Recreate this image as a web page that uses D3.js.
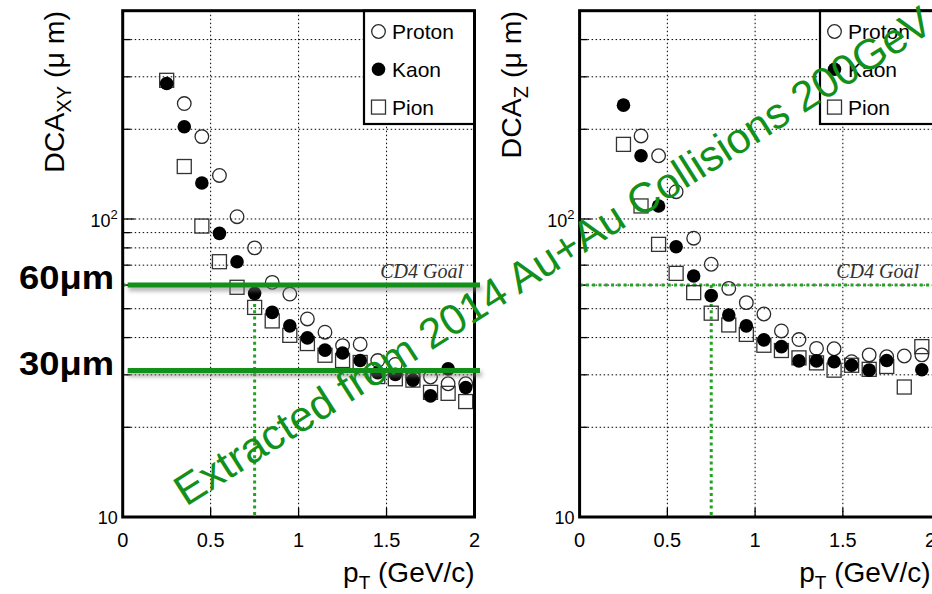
<!DOCTYPE html>
<html><head><meta charset="utf-8">
<script src="https://cdn.jsdelivr.net/npm/d3@7"></script>
<style>body{margin:0;background:#fff;overflow:hidden}</style>
</head><body>
<svg id="c" width="932" height="594"></svg>
<script>
// ---------------- data ----------------
const pT = [0.25,0.35,0.45,0.55,0.65,0.75,0.85,0.95,1.05,1.15,1.25,1.35,1.45,1.55,1.65,1.75,1.85,1.95];
const xyProton = [null,244,189,140,101.8,80,61.3,56,46.2,41.7,37.6,38.0,33.5,32.5,29.5,29.5,28.0,28.0];
const xyKaon   = [285,204,132,89.5,71.9,56.3,48.6,43.8,39.9,36.3,35.5,33.5,30.5,30.1,28.8,25.5,31.4,27.2];
const xyPion   = [292,150,94.7,71.9,59,50.5,45.5,40.7,38.2,34.9,33.5,33.0,29.6,29.1,28.8,26.2,26.0,24.4];
const zProton  = [null,190,163,123.5,86.2,70.5,58.5,52.4,48.0,42.1,39.4,36.8,36.7,33.2,35.0,34.5,34.7,35.0];
const zKaon    = [241,163,110.6,80.7,64.4,55.3,47.6,43.8,39.3,37.3,33.4,33.4,33.2,32.3,31.1,33.5,null,31.2];
const zPion    = [178,110.6,82.2,65.7,56.6,48.3,44.1,41.0,37.7,36.2,34.2,32.9,31.1,32.3,31.3,32.0,27.3,37.3];
const xTicks = [0,0.5,1,1.5,2];
const xTickLabels = ["0","0.5","1","1.5","2"];
const yGrid = [20,30,40,50,60,70,80,90,200,300,400];
const yMajor = [10,100];
const species = ["Proton","Kaon","Pion"];
const cd4Goal = 60;
const cd4Pt = 0.75;
const markLevels = [60,31];
const markLabels = ["60μm","30μm"];
const watermark = "Extracted from 2014 Au+Au Collisions 200GeV";

// ---------------- layout ----------------
const svg = d3.select("#c");
const GREEN = "#12901a", GREEN_DOT = "#22a322";
const FONT = "'Liberation Sans', Arial, Helvetica, sans-serif";
const defs = svg.append("defs");
defs.append("filter").attr("id","blur").attr("filterUnits","userSpaceOnUse")
  .attr("x",0).attr("y",0).attr("width",932).attr("height",594)
  .append("feGaussianBlur").attr("stdDeviation",2.2);

const panels = [
  {x0:122.7, x1:474.5, frameR:474.5, sub:"XY", titleX:64, data:[xyProton,xyKaon,xyPion],
   legX:364, legR:474.5, goalX:463, annotate:true},
  {x0:579.6, x1:930.6, frameR:934, sub:"Z", titleX:521, data:[zProton,zKaon,zPion],
   legX:820, legR:934, goalX:919, annotate:false}
];
const yTop = 10.7, yBot = 517;

function marker(g, kind, cx, cy){
  if(kind===0) g.append("circle").attr("cx",cx).attr("cy",cy).attr("r",6.8).attr("fill","none").attr("stroke","#2a2a2a").attr("stroke-width",1.3);
  else if(kind===1) g.append("circle").attr("cx",cx).attr("cy",cy).attr("r",6.8).attr("fill","#000");
  else g.append("rect").attr("x",cx-7).attr("y",cy-7).attr("width",14).attr("height",14).attr("fill","none").attr("stroke","#333").attr("stroke-width",1.3);
}

panels.forEach(p=>{
  const x = d3.scaleLinear().domain([0,2]).range([p.x0,p.x1]);
  const y = d3.scaleLog().domain([10,500]).range([yBot,yTop]);
  const g = svg.append("g");

  // grid
  g.selectAll(".gx").data(xTicks.slice(1,-1)).join("line")
    .attr("x1",d=>x(d)).attr("x2",d=>x(d)).attr("y1",yTop).attr("y2",yBot)
    .attr("stroke","#000").attr("stroke-width",1).attr("stroke-dasharray","1.5,2.5");
  g.selectAll(".gy").data(yGrid.concat([100])).join("line")
    .attr("x1",p.x0).attr("x2",p.frameR).attr("y1",d=>y(d)).attr("y2",d=>y(d))
    .attr("stroke","#000").attr("stroke-width",1).attr("stroke-dasharray","1.5,2.5");

  // ticks
  g.selectAll(".ty").data(yGrid).join("line")
    .attr("x1",p.x0).attr("x2",p.x0+8).attr("y1",d=>y(d)).attr("y2",d=>y(d)).attr("stroke","#000").attr("stroke-width",1.3);
  g.selectAll(".tY").data(yMajor).join("line")
    .attr("x1",p.x0).attr("x2",p.x0+12).attr("y1",d=>y(d)).attr("y2",d=>y(d)).attr("stroke","#000").attr("stroke-width",1.3);
  g.selectAll(".tx").data(xTicks.slice(1,-1)).join("line")
    .attr("x1",d=>x(d)).attr("x2",d=>x(d)).attr("y1",yBot).attr("y2",yBot-9).attr("stroke","#000").attr("stroke-width",1.3);

  // CD4 goal dotted lines
  g.append("line").attr("x1",p.x0).attr("x2",p.frameR).attr("y1",y(cd4Goal)).attr("y2",y(cd4Goal))
    .attr("stroke",GREEN_DOT).attr("stroke-width",3).attr("stroke-dasharray","3,3.3");
  g.append("line").attr("x1",x(cd4Pt)).attr("x2",x(cd4Pt)).attr("y1",y(cd4Goal)).attr("y2",yBot)
    .attr("stroke",GREEN_DOT).attr("stroke-width",3).attr("stroke-dasharray","3,3.3");
  g.append("text").attr("x",p.goalX).attr("y",278).attr("text-anchor","end")
    .attr("font-family","'Liberation Serif', 'Times New Roman', serif").attr("font-style","italic")
    .attr("font-size",20).attr("fill","#333").text("CD4 Goal");

  // data: pion, proton, kaon order
  [2,0,1].forEach(k=>{
    p.data[k].forEach((v,i)=>{ if(v!=null) marker(g,k,x(pT[i]),y(v)); });
  });

  // legend
  g.append("rect").attr("x",p.legX).attr("y",yTop).attr("width",p.legR-p.legX).attr("height",124-yTop)
    .attr("fill","#fff").attr("stroke","#000").attr("stroke-width",2.2);
  species.forEach((s,k)=>{
    const cy = 31.5 + k*37.8;
    marker(g,k,p.legX+14.5,cy);
    g.append("text").attr("x",p.legX+28).attr("y",cy+7.5).attr("font-family",FONT).attr("font-size",21).attr("fill","#000").text(s);
  });

  // frame
  g.append("rect").attr("x",p.x0).attr("y",yTop).attr("width",p.frameR-p.x0).attr("height",yBot-yTop)
    .attr("fill","none").attr("stroke","#000").attr("stroke-width",3);

  // tick labels
  g.selectAll(".lx").data(xTicks).join("text")
    .attr("x",d=>x(d)).attr("y",547).attr("text-anchor","middle").attr("font-family",FONT).attr("font-size",20).attr("fill","#000")
    .text((d,i)=>xTickLabels[i]);
  const l2 = g.append("text").attr("x",p.x0-5).attr("y",y(100)+8).attr("font-family",FONT).attr("font-size",18).attr("text-anchor","end");
  l2.append("tspan").text("10");
  l2.append("tspan").attr("dy",-8).attr("font-size",13).text("2");
  g.append("text").attr("x",p.x0-5).attr("y",y(10)+7).attr("text-anchor","end").attr("font-family",FONT).attr("font-size",18).text("10");

  // axis titles
  const yt = g.append("text").attr("transform",`translate(${p.titleX},11) rotate(-90)`).attr("text-anchor","end")
    .attr("font-family",FONT).attr("font-size",28.5).attr("fill","#000");
  yt.append("tspan").text("DCA");
  yt.append("tspan").attr("dy",7).attr("font-size",20).text(p.sub);
  yt.append("tspan").attr("dy",-7).text(" (μ m)");
  const xt = g.append("text").attr("x",p.x1).attr("y",582).attr("text-anchor","end")
    .attr("font-family",FONT).attr("font-size",28).attr("fill","#000");
  xt.append("tspan").text("p");
  xt.append("tspan").attr("dy",7).attr("font-size",19).text("T");
  xt.append("tspan").attr("dy",-7).text(" (GeV/c)");

  // slide annotations
  if(p.annotate){
    markLevels.forEach((v,i)=>{
      g.append("line").attr("x1",p.x0+6).attr("x2",482).attr("y1",y(v)+3.5).attr("y2",y(v)+3.5)
        .attr("stroke","#777").attr("stroke-width",5).attr("opacity",0.6).attr("filter","url(#blur)");
      g.append("line").attr("x1",p.x0+5).attr("x2",480).attr("y1",y(v)).attr("y2",y(v))
        .attr("stroke",GREEN).attr("stroke-width",5);
      g.append("text").attr("x",114).attr("y",y(v)+4).attr("text-anchor","end")
        .attr("font-family",FONT).attr("font-weight","bold").attr("font-size",33)
        .attr("textLength",95).attr("lengthAdjust","spacingAndGlyphs").attr("fill","#000").text(markLabels[i]);
    });
  }
});

// watermark
svg.append("text").attr("transform","translate(186,507) rotate(-32.5)")
  .attr("font-family",FONT).attr("font-size",42.8).attr("fill",GREEN).text(watermark);
</script>
</body></html>
